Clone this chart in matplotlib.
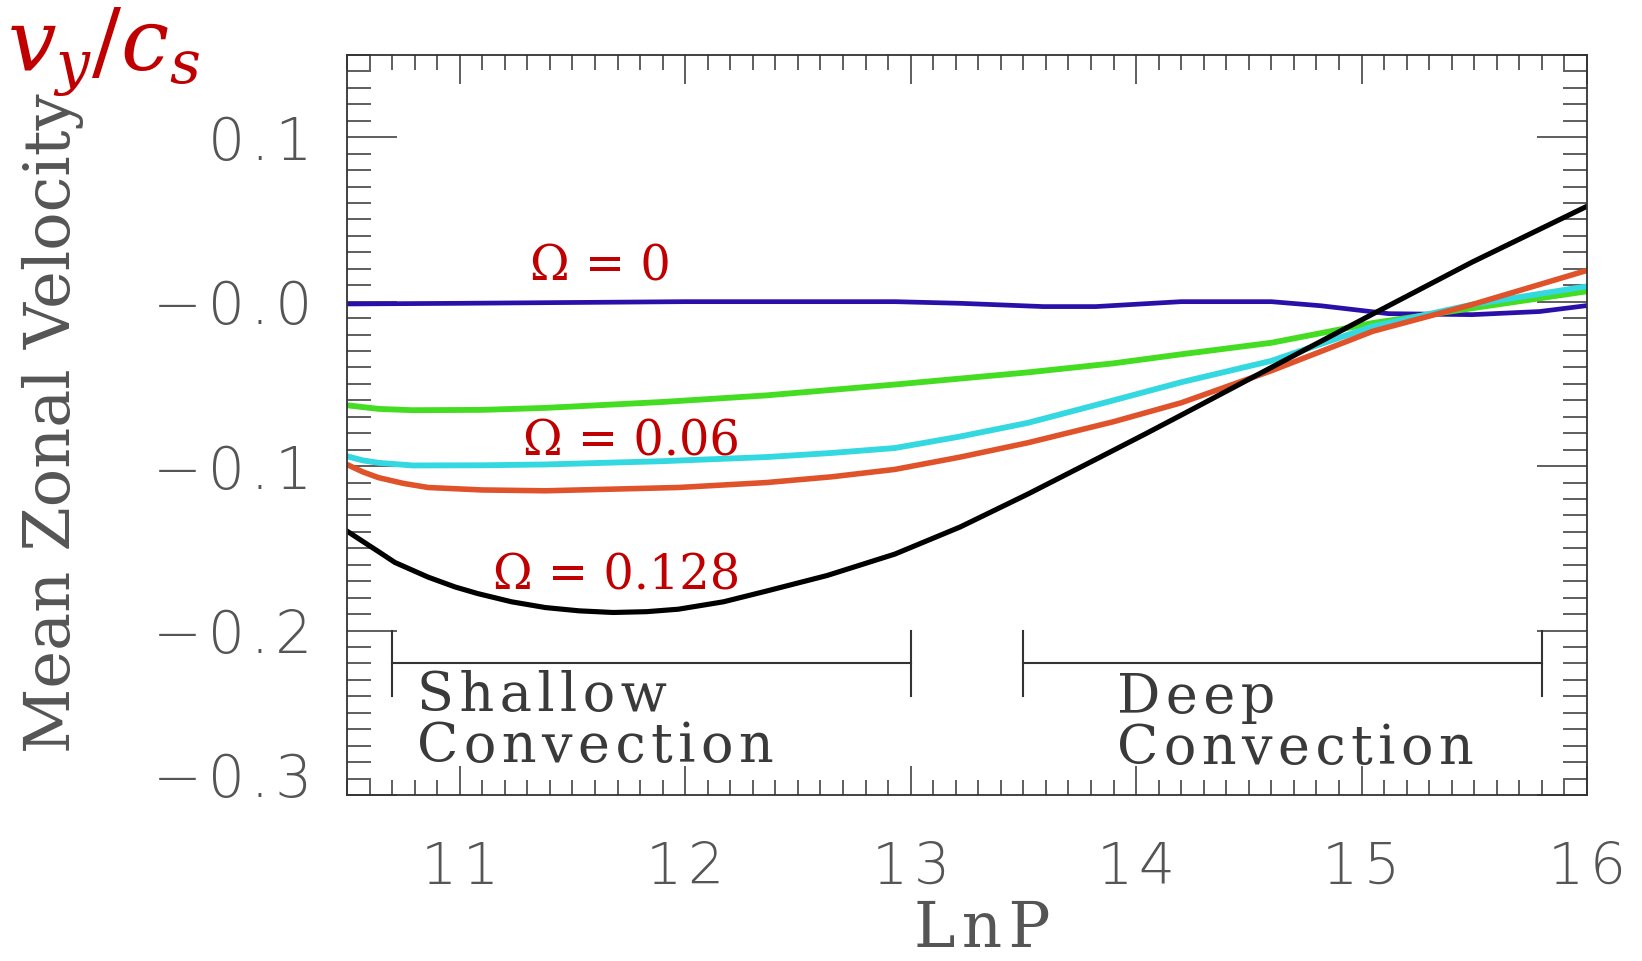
import numpy as np
import matplotlib
matplotlib.use("Agg")
import matplotlib.pyplot as plt
import matplotlib.transforms as mtransforms
from matplotlib.ticker import MultipleLocator

# ------------------------------------------------------
# Mean zonal velocity vs LnP for three rotation rates
# ------------------------------------------------------

# Omega = 0
lnp_w0 = [10.5, 11.0, 11.5, 12.0, 12.36, 12.93, 13.22, 13.59, 13.82, 14.2, 14.6, 14.82, 15.12, 15.49, 15.79, 16.0]
vel_w0 = [-0.0014, -0.001, -0.0005, 0.0, 0.0, 0.0, -0.001, -0.003, -0.003, 0.0, 0.0, -0.0025, -0.0073, -0.0079, -0.006, -0.0024]

# Omega = 0.06 (green, cyan, orange runs)
lnp_green = [10.5, 10.64, 10.79, 11.1, 11.38, 11.9, 12.36, 12.93, 13.52, 13.9, 14.2, 14.6, 15.05, 15.49, 16.0]
vel_green = [-0.063, -0.0652, -0.066, -0.0658, -0.0646, -0.061, -0.057, -0.0504, -0.043, -0.0375, -0.032, -0.025, -0.013, -0.004, 0.0063]

lnp_cyan = [10.5, 10.57, 10.64, 10.79, 11.1, 11.38, 11.9, 12.36, 12.65, 12.93, 13.22, 13.52, 13.9, 14.2, 14.6, 15.05, 15.49, 16.0]
vel_cyan = [-0.094, -0.0965, -0.098, -0.0996, -0.0995, -0.099, -0.097, -0.0945, -0.092, -0.089, -0.082, -0.0737, -0.060, -0.049, -0.036, -0.015, -0.0018, 0.0093]

lnp_orange = [10.5, 10.57, 10.64, 10.75, 10.86, 11.1, 11.38, 11.97, 12.36, 12.65, 12.93, 13.22, 13.52, 13.9, 14.2, 14.6, 15.05, 15.49, 16.0]
vel_orange = [-0.099, -0.1035, -0.107, -0.1105, -0.113, -0.1145, -0.115, -0.113, -0.110, -0.1065, -0.102, -0.0945, -0.0858, -0.073, -0.0615, -0.042, -0.018, -0.0018, 0.019]

# Omega = 0.128
lnp_w128 = [10.5, 10.567, 10.64, 10.713, 10.86, 10.98, 11.08, 11.23, 11.38, 11.53, 11.68, 11.83, 11.97, 12.17,
            12.36, 12.63, 12.93, 13.22, 13.52, 13.82, 14.04, 14.2, 14.6, 15.05, 15.49, 16.0]
vel_w128 = [-0.1395, -0.1455, -0.152, -0.1586, -0.1675, -0.1735, -0.1775, -0.1825, -0.186, -0.188, -0.189, -0.1885,
            -0.187, -0.1825, -0.176, -0.1665, -0.1535, -0.137, -0.117, -0.096, -0.0805, -0.069, -0.040, -0.0075, 0.024, 0.058]

x_ticks = [11, 12, 13, 14, 15, 16]
y_ticks = [-0.3, -0.2, -0.1, 0.0, 0.1]
y_tick_labels = ["\u22120.3", "\u22120.2", "\u22120.1", "\u22120.0", "0.1"]

# convection regimes (start, end)
shallow_range = (10.7, 13.0)
deep_range = (13.5, 15.8)

red = "#c00000"
ink = "#333333"
serif = "DejaVu Serif"


def spread(s, gap="\u200a"):
    # open up letter spacing a little
    return gap.join(s)


fig = plt.figure(figsize=(16.42, 9.61), dpi=100)
ax = fig.add_axes([0.2113, 0.1727, 0.7552, 0.7701])

ax.plot(lnp_w0, vel_w0, color="#2a10a8", lw=3.4, solid_joinstyle="round")
ax.plot(lnp_green, vel_green, color="#44dd22", lw=4.2, solid_joinstyle="round")
ax.plot(lnp_cyan, vel_cyan, color="#33d8e0", lw=4.2, solid_joinstyle="round")
ax.plot(lnp_orange, vel_orange, color="#e0522a", lw=4.0, solid_joinstyle="round")
ax.plot(lnp_w128, vel_w128, color="black", lw=3.7, solid_joinstyle="round")

ax.set_xlim(10.5, 16)
ax.set_ylim(-0.3, 0.15)

# ticks on all four sides, pointing in
ax.set_xticks(x_ticks)
ax.set_xticklabels([spread(str(t)) for t in x_ticks])
ax.set_yticks(y_ticks)
ax.set_yticklabels([spread(t) for t in y_tick_labels])
ax.xaxis.set_minor_locator(MultipleLocator(0.1))
ax.yaxis.set_minor_locator(MultipleLocator(0.01))
ax.tick_params(axis="x", which="major", direction="in", length=21, width=1.1,
               color=ink, top=True, bottom=True, pad=33, labelsize=41, labelcolor="#555555")
ax.tick_params(axis="x", which="minor", direction="in", length=11, width=1.1,
               color=ink, top=True, bottom=True)
ax.tick_params(axis="y", which="major", direction="in", length=36, width=1.1,
               color=ink, left=True, right=True, pad=25, labelsize=42, labelcolor="#555555")
ax.tick_params(axis="y", which="minor", direction="in", length=17, width=1.1,
               color=ink, left=True, right=True)
for lab in ax.get_xticklabels() + ax.get_yticklabels():
    lab.set_fontfamily("DejaVu Sans")
    lab.set_fontweight("light")

# bottom label sits above the frame corner
off = mtransforms.ScaledTranslation(0, 21 / 100, fig.dpi_scale_trans)
lab0 = ax.yaxis.get_major_ticks()[0].label1
lab0.set_transform(lab0.get_transform() + off)

for sp in ax.spines.values():
    sp.set_linewidth(1.3)
    sp.set_color(ink)

# regime brackets
for (x0, x1) in (shallow_range, deep_range):
    ax.plot([x0, x1], [-0.22, -0.22], color=ink, lw=1.5)
    ax.plot([x0, x0], [-0.2, -0.24], color=ink, lw=1.5)
    ax.plot([x1, x1], [-0.2, -0.24], color=ink, lw=1.5)

kw = dict(family=serif, fontsize=39, color="#3a3a3a")
ax.text(10.811, -0.249, spread("Shallow"), **kw)
ax.text(10.811, -0.280, spread("Convection"), **kw)
ax.text(13.916, -0.250, spread("Deep"), **kw)
ax.text(13.916, -0.281, spread("Convection"), **kw)

# rotation-rate labels
ax.text(11.313, 0.0128, "\u03a9 = 0", family=serif, fontsize=34.5, color=red)
ax.text(11.282, -0.0935, "\u03a9 = 0.06", family=serif, fontsize=34.5, color=red)
ax.text(11.149, -0.1749, "\u03a9 = 0.128", family=serif, fontsize=34.5, color=red)

# axis titles
fig.text(53 / 1642, 1 - 423 / 961, "Mean Zonal Velocity", family=serif, fontsize=46,
         color="#555555", rotation=90, ha="center", va="center")
fig.text(982 / 1642, 1 - 947 / 961, spread("LnP"), family=serif, fontsize=45,
         color="#555555", ha="center", va="baseline")

plt.rcParams["mathtext.fontset"] = "dejavuserif"
fig.text(104 / 1642, 1 - 52 / 961, r"$v_y/c_s$", fontsize=62, color=red,
         ha="center", va="center")

fig.savefig("out.png", dpi=100)
plt.close(fig)
